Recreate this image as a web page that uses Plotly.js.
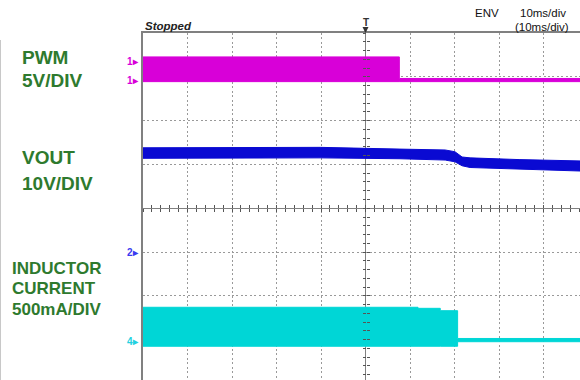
<!DOCTYPE html>
<html>
<head>
<meta charset="utf-8">
<script src="https://cdn.plot.ly/plotly-3.0.1.min.js"></script>
<style>
  html, body { margin: 0; padding: 0; background: #ffffff; overflow: hidden; }
  #chart { width: 580px; height: 380px; }
</style>
</head>
<body>
<div id="chart"></div>
<script>
// ---------------- DATA (read from the scope capture, ENV mode: max/min envelopes) ----------------
// time axis in ms (10 ms/div, trigger at 0 ms)
const timePwm  = [-50, 7.6, 48.2];
const pwmMax   = [2.74, 0.28, 0.28];          // V
const pwmMin   = [-0.08, -0.08, -0.08];       // V

const timeVout = [-50, -10.2, 7.75, 17.9, 20.1, 21.7, 23.5, 34.7, 48.2];
const voutMax  = [23.8, 23.9, 23.5, 23.3, 22.9, 21.7, 21.5, 21.1, 20.8];   // V
const voutMin  = [21.4, 21.5, 21.3, 21.0, 20.6, 19.7, 19.3, 19.0, 18.5];   // V

const timeIl   = [-50, 11.8, 16.8, 20.7, 48.2];
const ilMax    = [393, 381, 354, 37, 37];     // mA
const ilMin    = [-52, -52, -52, 0, 0];       // mA

const pwmTrigLevel = 2.2;                     // V (marker on left edge)

// channel settings: volts (or mA) per division and ground position in divisions from screen centre
const channelNames  = ["PWM", "VOUT", "INDUCTOR CURRENT"];
const channelScales = [5, 10, 500];
const channelGround = [2.906, -1.0, -3.046];
const labelLines    = [["PWM", "5V/DIV"], ["VOUT", "10V/DIV"], ["INDUCTOR", "CURRENT", "500mA/DIV"]];

// ---------------- LAYOUT HELPERS ----------------
const L = 143, T = 33, W = 580, H = 380;
const PW = W - L, PH = H - T;
const px = x => (x - L) / PW;          // pixel -> paper x
const py = y => (H - y) / PH;          // pixel -> paper y

const xRange = [-50, 48.2];            // visible part of the 10-division screen (cropped at right)
const yRange = [-3.92, 4];             // divisions (cropped at bottom)
const chRange = i => [(yRange[0] - channelGround[i]) * channelScales[i],
                      (yRange[1] - channelGround[i]) * channelScales[i]];

const MAG = "#d800d8", BLU = "#0a0ad2", CYA = "#00d6d6", GRN = "#2e7a2e";
const FONT = "Liberation Sans, Arial, sans-serif";

function band(t, lo, hi, color, yaxis, shape) {
  return [
    {x: t, y: lo, yaxis: yaxis, type: "scatter", mode: "lines",
     line: {color: color, width: 1, shape: shape}, hoverinfo: "skip", showlegend: false},
    {x: t, y: hi, yaxis: yaxis, type: "scatter", mode: "lines", fill: "tonexty",
     fillcolor: color, line: {color: color, width: 1, shape: shape}, hoverinfo: "skip", showlegend: false}
  ];
}

const traces = [
  // empty traces that keep the graticule and its tick axes alive
  {x: [], y: [], type: "scatter", showlegend: false},
  {x: [], y: [], xaxis: "x2", yaxis: "y5", type: "scatter", showlegend: false},
  {x: [], y: [], xaxis: "x3", yaxis: "y6", type: "scatter", showlegend: false},
  ...band(timePwm, pwmMin, pwmMax, MAG, "y2", "hv"),
  ...band(timeVout, voutMin, voutMax, BLU, "y3", "linear"),
  ...band(timeIl, ilMin, ilMax, CYA, "y4", "hv")
];

const xCenterFrac = (0 - xRange[0]) / (xRange[1] - xRange[0]);
const yCenterFrac = (0 - yRange[0]) / (yRange[1] - yRange[0]);
const GRIDDASH = "2px,2.45px";

const tickAxX = (ticks) => ({
  overlaying: "x", anchor: "free", position: yCenterFrac, range: xRange,
  showgrid: false, zeroline: false, showline: false, showticklabels: false,
  ticks: ticks, ticklen: 3, tickwidth: 1, tickcolor: "#555", tick0: 0, dtick: 2, side: "bottom"
});
const tickAxY = (ticks) => ({
  overlaying: "y", anchor: "free", position: xCenterFrac, range: yRange,
  showgrid: false, zeroline: false, showline: false, showticklabels: false,
  ticks: ticks, ticklen: 3, tickwidth: 1, tickcolor: "#555", tick0: 0, dtick: 0.2, side: "left"
});

const annotations = [];
function txt(text, x, y, size, opts) {
  annotations.push(Object.assign({
    text: text, xref: "paper", yref: "paper", x: px(x), y: py(y),
    xanchor: "left", yanchor: "middle", showarrow: false,
    font: {family: FONT, size: size, color: GRN}
  }, opts || {}));
}
// channel labels
txt("<b>" + labelLines[0][0] + "</b>", 20, 57, 19);
txt("<b>" + labelLines[0][1] + "</b>", 20, 80, 19);
txt("<b>" + labelLines[1][0] + "</b>", 20, 157, 19);
txt("<b>" + labelLines[1][1] + "</b>", 20, 183, 19);
txt("<b>" + labelLines[2][0] + "</b>", 10, 268, 17);
txt("<b>" + labelLines[2][1] + "</b>", 10, 288, 17);
txt("<b>" + labelLines[2][2] + "</b>", 10, 309, 17);
// scope status texts
const DARK = {family: FONT, size: 11.5, color: "#111"};
txt("<b><i>Stopped</i></b>", 143, 26, 11, {font: {family: FONT, size: 11.5, color: "#222"}});
txt("ENV", 487, 13, 11, {xanchor: "center", font: DARK});
txt("10ms/div", 543, 13, 11, {xanchor: "center", font: DARK});
txt("(10ms/div)", 542, 27, 11, {xanchor: "center", font: DARK});
// trigger position marker
annotations.push({text: "<b>T</b>", xref: "x", yref: "paper", x: 0, y: 1, ax: 0, ay: -11,
  showarrow: true, arrowhead: 2, arrowsize: 0.8, arrowwidth: 1.5, arrowcolor: "#333",
  font: {family: FONT, size: 10, color: "#333"}});
// channel markers on the left edge
function marker(label, axis, value, color) {
  annotations.push({text: "<b>" + label + "▸</b>", xref: "paper", yref: axis, x: px(141), y: value,
    xanchor: "right", yanchor: "middle", showarrow: false,
    font: {family: FONT, size: 10, color: color}});
}
marker("1", "y2", pwmTrigLevel, MAG);
marker("1", "y2", 0, MAG);
marker("2", "y3", 0, "#3a3af0");
marker("4", "y4", 0, "#22d0e0");

const layout = {
  width: W, height: H,
  margin: {l: L, r: 0, t: T, b: 0, pad: 0},
  paper_bgcolor: "#ffffff", plot_bgcolor: "rgba(0,0,0,0)",
  showlegend: false,
  xaxis: {range: xRange, tick0: 0, dtick: 10, showgrid: true, gridcolor: "#999999", gridwidth: 1,
          griddash: GRIDDASH, zeroline: true, zerolinecolor: "#808080", zerolinewidth: 1,
          showline: true, linecolor: "#808080", linewidth: 2, side: "top", mirror: false,
          ticks: "", showticklabels: false, fixedrange: true},
  yaxis: {range: yRange, tick0: 0, dtick: 1, showgrid: true, gridcolor: "#999999", gridwidth: 1,
          griddash: GRIDDASH, zeroline: true, zerolinecolor: "#808080", zerolinewidth: 1,
          showline: true, linecolor: "#808080", linewidth: 2, side: "left",
          ticks: "", showticklabels: false, fixedrange: true},
  xaxis2: tickAxX("outside"),
  xaxis3: tickAxX("inside"),
  yaxis2: {overlaying: "y", range: chRange(0), visible: false, fixedrange: true},
  yaxis3: {overlaying: "y", range: chRange(1), visible: false, fixedrange: true},
  yaxis4: {overlaying: "y", range: chRange(2), visible: false, fixedrange: true},
  yaxis5: tickAxY("outside"),
  yaxis6: tickAxY("inside"),
  annotations: annotations,
  shapes: [
    {type: "line", xref: "paper", yref: "paper", x0: px(0.5), x1: px(0.5), y0: py(380), y1: py(40),
     line: {color: "#c8c8c8", width: 1}}
  ]
};

Plotly.newPlot("chart", traces, layout, {displayModeBar: false, staticPlot: true});
</script>
</body>
</html>
